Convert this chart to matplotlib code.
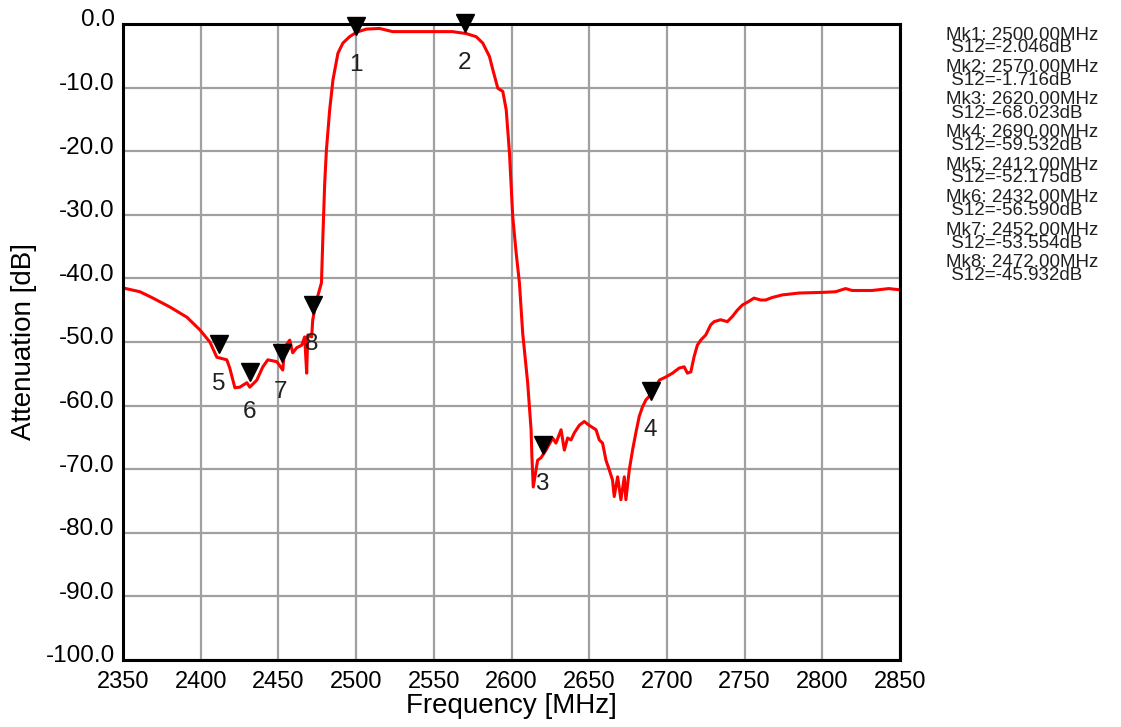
import matplotlib
matplotlib.use("Agg")
import matplotlib.pyplot as plt
from matplotlib.transforms import offset_copy, ScaledTranslation

plt.rcParams['font.family'] = ['Liberation Sans', 'DejaVu Sans']

freq_mhz = [2350.0, 2360.9, 2369.3, 2380.2, 2391.1, 2399.5, 2405.9, 2410.4, 2416.8, 2418.7,
            2422.0, 2425.2, 2429.7, 2431.6, 2436.1, 2440.0, 2443.2, 2449.0, 2452.8, 2454.1,
            2457.3, 2459.2, 2461.8, 2465.0, 2466.9, 2468.2, 2468.9, 2471.4, 2472.1, 2474.6,
            2477.7, 2478.7, 2479.8, 2480.9, 2483.0, 2485.1, 2488.3, 2491.5, 2495.8, 2500.2,
            2506.6, 2515.1, 2523.5, 2540.0, 2562.0, 2570.8, 2577.3, 2581.5, 2585.8, 2588.0,
            2591.2, 2594.4, 2596.6, 2598.7, 2600.8, 2603.0, 2605.1, 2607.2, 2610.4, 2612.6,
            2613.1, 2614.0, 2615.8, 2616.8, 2619.0, 2622.2, 2626.5, 2628.6, 2631.9, 2634.0,
            2636.1, 2638.3, 2640.4, 2643.6, 2646.8, 2650.0, 2654.4, 2656.5, 2658.6, 2660.8,
            2662.9, 2665.0, 2666.1, 2668.3, 2670.4, 2672.6, 2673.6, 2675.8, 2677.9, 2680.0,
            2682.2, 2684.3, 2686.5, 2690.7, 2695.1, 2699.3, 2703.6, 2707.9, 2711.1, 2713.2,
            2715.4, 2717.5, 2719.6, 2721.8, 2725.0, 2728.2, 2730.4, 2734.6, 2738.9, 2742.1,
            2745.3, 2748.5, 2752.8, 2756.0, 2760.4, 2763.5, 2767.8, 2774.2, 2785.0, 2800.0,
            2808.5, 2815.0, 2819.2, 2832.1, 2842.8, 2850.0]
atten_db = [-41.5, -42.1, -43.1, -44.5, -46.1, -48.1, -50.0, -52.4, -52.8, -54.1,
            -57.2, -57.1, -56.4, -57.1, -56.0, -53.9, -52.8, -53.1, -54.4, -50.8,
            -49.7, -51.7, -50.9, -50.5, -49.2, -54.9, -48.9, -49.2, -46.5, -43.4,
            -40.7, -32.9, -25.0, -19.8, -13.5, -8.8, -4.6, -3.0, -2.0, -1.3,
            -0.8, -0.7, -1.2, -1.2, -1.2, -1.5, -2.0, -3.0, -5.1, -7.2,
            -10.1, -10.6, -13.5, -20.3, -30.3, -36.0, -40.7, -48.6, -56.4, -63.8,
            -67.8, -72.8, -70.1, -68.6, -68.2, -67.0, -65.1, -65.9, -63.8, -67.0,
            -65.1, -65.4, -64.3, -63.1, -62.5, -63.1, -63.8, -65.4, -65.9, -68.6,
            -70.1, -71.7, -74.3, -71.2, -74.8, -71.2, -74.8, -70.1, -67.0, -64.3,
            -61.7, -60.2, -59.1, -58.0, -56.0, -55.5, -54.9, -54.1, -53.9, -54.9,
            -54.7, -52.3, -50.5, -49.7, -48.9, -47.3, -46.8, -46.5, -46.8, -46.0,
            -45.0, -44.2, -43.6, -43.1, -43.4, -43.4, -43.0, -42.6, -42.3, -42.2,
            -42.1, -41.6, -41.9, -41.9, -41.6, -41.8]

marker_ids = [1, 2, 3, 4, 5, 6, 7, 8]
marker_freq = [2500.00, 2570.00, 2620.00, 2690.00, 2412.00, 2432.00, 2452.00, 2472.00]
marker_s12 = [-2.046, -1.716, -68.023, -59.532, -52.175, -56.590, -53.554, -45.932]

x_ticks = [2350, 2400, 2450, 2500, 2550, 2600, 2650, 2700, 2750, 2800, 2850]
y_ticks = [0, -10, -20, -30, -40, -50, -60, -70, -80, -90, -100]

fig = plt.figure(figsize=(11.21, 7.27), dpi=100)
ax = fig.add_axes([123/1121, 1-660/727, (900-123)/1121, (660-24)/727])

ax.plot(freq_mhz, atten_db, color='#ff0000', lw=2.2, zorder=3)

ms = 13.5
tri_tr = offset_copy(ax.transData, fig=fig, x=0, y=ms/2 + 1.5, units='points')
ax.plot(marker_freq, marker_s12, linestyle='none', marker='v', ms=ms,
        color='black', transform=tri_tr, zorder=5, clip_on=False)
for mid, f, v in zip(marker_ids, marker_freq, marker_s12):
    ax.annotate(str(mid), (f, v), xytext=(-0.5, -20), textcoords='offset points',
                ha='center', va='center', fontsize=17.5, color='#202020', zorder=6)

ax.set_xlim(2350, 2850)
ax.set_ylim(-100, 0)
ax.set_xticks(x_ticks)
ax.set_yticks(y_ticks)
ax.set_xticklabels([str(t) for t in x_ticks], fontsize=17)
ax.set_yticklabels([f"{t:.1f}" for t in y_ticks], fontsize=17.5)
ax.tick_params(length=0)
ax.tick_params(axis='x', pad=8)
ax.tick_params(axis='y', pad=6)
for lab in ax.get_yticklabels():
    lab.set_transform(lab.get_transform() + ScaledTranslation(0, 6/100, fig.dpi_scale_trans))

ax.grid(True, color='#a0a0a0', lw=1.6)
ax.set_axisbelow(True)
for sp in ax.spines.values():
    sp.set_color('black')
    sp.set_linewidth(2.2)
    sp.set_zorder(4)

ax.set_xlabel('Frequency [MHz]', fontsize=20, labelpad=0)
ax.set_ylabel('Attenuation [dB]', fontsize=20, labelpad=6)

y0 = 35
for i, (mid, f, v) in enumerate(zip(marker_ids, marker_freq, marker_s12)):
    yy = y0 + 32.5 * i
    fig.text(946/1121, 1 - yy/727, f"Mk{mid}: {f:.2f}MHz", fontsize=13.5,
             ha='left', va='center', color='#202020')
    fig.text(946/1121, 1 - (yy + 13)/727, f" S12={v:.3f}dB", fontsize=13.5,
             ha='left', va='center', color='#202020')

fig.savefig('out.png', dpi=100)
